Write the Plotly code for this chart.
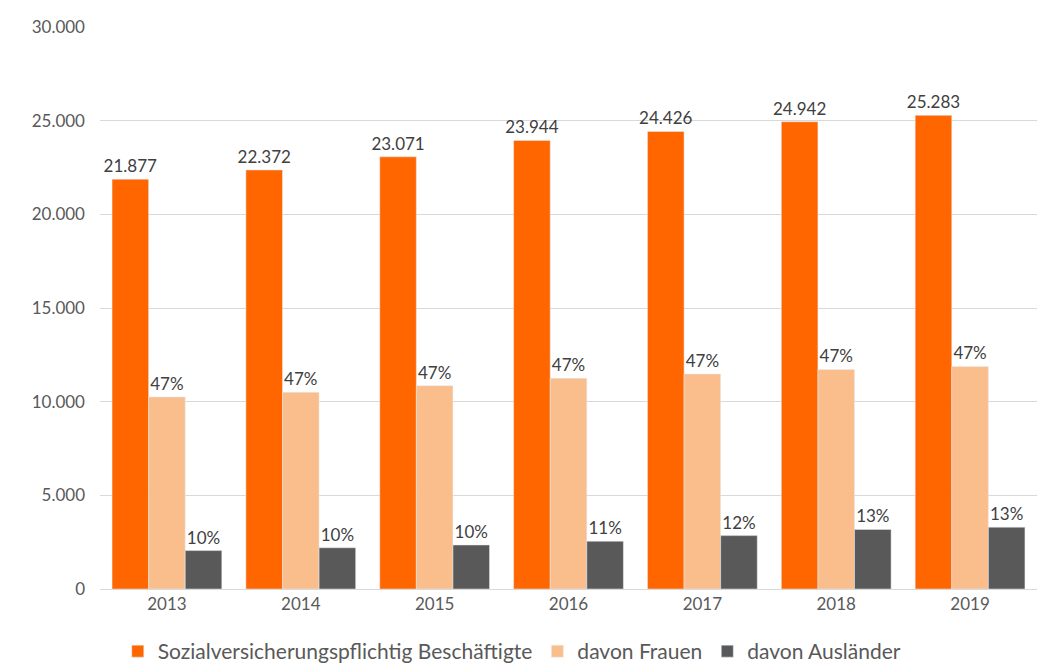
import plotly.graph_objects as go

# Beschäftigtenentwicklung 2013–2019
jahre = ["2013", "2014", "2015", "2016", "2017", "2018", "2019"]
beschaeftigte = [21877, 22372, 23071, 23944, 24426, 24942, 25283]
frauen = [10250, 10500, 10850, 11250, 11480, 11720, 11880]
auslaender = [2050, 2200, 2350, 2550, 2850, 3180, 3300]
frauen_anteil = ["47%", "47%", "47%", "47%", "47%", "47%", "47%"]
auslaender_anteil = ["10%", "10%", "10%", "11%", "12%", "13%", "13%"]

y_ticks = [0, 5000, 10000, 15000, 20000, 25000, 30000]

FONT = "Lato, Carlito, Calibri, sans-serif"
TEXT_COLOR = "#404040"
LABEL_FONT = dict(size=17, color=TEXT_COLOR, family=FONT)

fig = go.Figure()
fig.add_trace(go.Bar(
    x=jahre, y=beschaeftigte, name="Sozialversicherungspflichtig Beschäftigte",
    marker_color="#FF6600",
    text=[f"{v:,}".replace(",", ".") for v in beschaeftigte],
    textposition="outside", cliponaxis=False, constraintext="none",
    textfont=LABEL_FONT,
))
fig.add_trace(go.Bar(
    x=jahre, y=frauen, name="davon Frauen",
    marker_color="#F9BE8C",
    text=frauen_anteil, textposition="outside", cliponaxis=False,
    constraintext="none", textfont=LABEL_FONT,
))
fig.add_trace(go.Bar(
    x=jahre, y=auslaender, name="davon Ausländer",
    marker_color="#595959",
    text=auslaender_anteil, textposition="outside", cliponaxis=False,
    constraintext="none", textfont=LABEL_FONT,
))

fig.update_layout(
    width=1037, height=672,
    margin=dict(l=100, r=0, t=27, b=83),
    paper_bgcolor="white", plot_bgcolor="white",
    barmode="group", bargap=0.18, bargroupgap=0,
    separators=",.",
    font=dict(family=FONT, size=17, color="#595959"),
    showlegend=True,
    legend=dict(orientation="h", x=0.44, xanchor="center", y=-0.075, yanchor="top",
                font=dict(size=21, color="#595959"), itemwidth=30,
                traceorder="normal"),
    xaxis=dict(showgrid=False, showline=True, linecolor="#d9d9d9", ticks="",
               tickfont=dict(size=17, color="#595959")),
    yaxis=dict(range=[0, 30000], tickvals=y_ticks, tickformat=",d",
               showgrid=True, gridcolor="#d9d9d9", zeroline=False, showline=False,
               ticks="", ticklabelstandoff=14,
               tickfont=dict(size=17, color="#595959")),
)

fig.write_html("out.html")
